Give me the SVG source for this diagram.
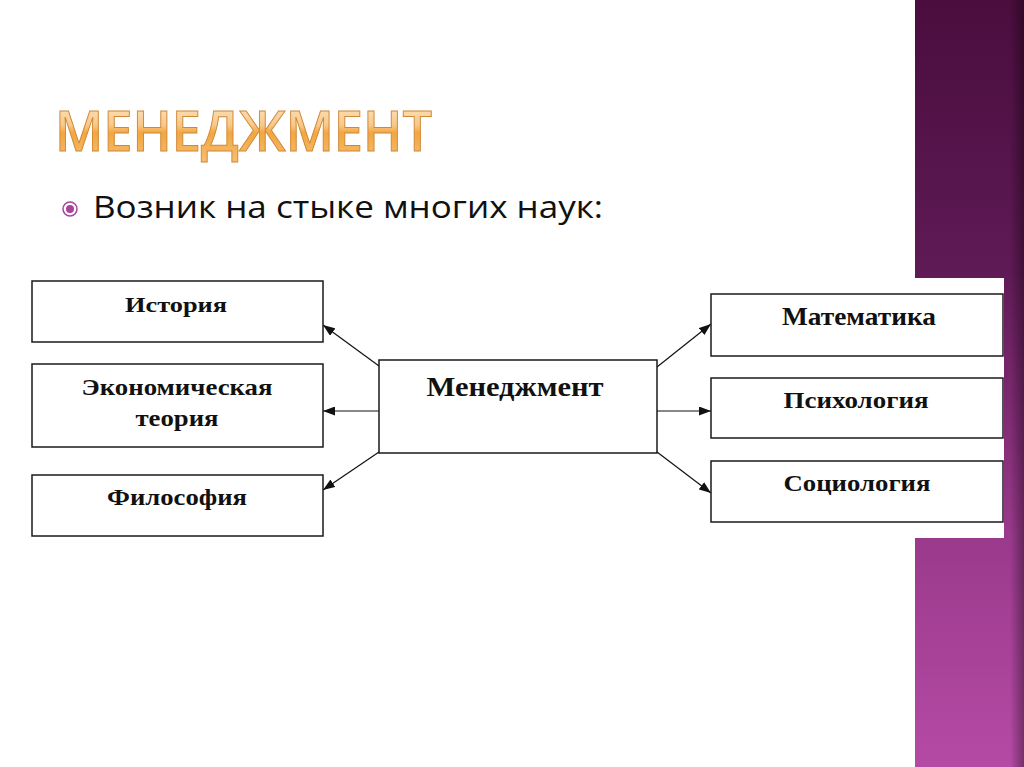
<svg xmlns="http://www.w3.org/2000/svg" width="1024" height="767" viewBox="0 0 1024 767">
<style>
.box{fill:#ffffff;stroke:#1a1a1a;stroke-width:1.5}
.lbl{font-family:"Liberation Serif","Times New Roman",serif;font-weight:bold;fill:#111;text-anchor:middle}
.con{stroke:#111;stroke-width:1.2;fill:none;marker-end:url(#ah)}
</style>
<defs>
<marker id="ah" viewBox="0 0 12 9" refX="12" refY="4.5" markerWidth="12" markerHeight="9" markerUnits="userSpaceOnUse" orient="auto">
<path d="M0,0 L12,4.5 L0,9 Z" fill="#111"/>
</marker>
<linearGradient id="band" x1="0" y1="0" x2="0" y2="1">
<stop offset="0" stop-color="#4a0d3d"/>
<stop offset="0.35" stop-color="#5e1a55"/>
<stop offset="0.7" stop-color="#9a3a8c"/>
<stop offset="1" stop-color="#b54aa5"/>
</linearGradient>
<linearGradient id="bandEdge" x1="0" y1="0" x2="1" y2="0">
<stop offset="0" stop-color="#000" stop-opacity="0"/>
<stop offset="1" stop-color="#000" stop-opacity="0.35"/>
</linearGradient>
<linearGradient id="title" x1="0" y1="0" x2="0" y2="1">
<stop offset="0" stop-color="#fff3e0"/>
<stop offset="0.45" stop-color="#f8c888"/>
<stop offset="0.55" stop-color="#f2a640"/>
<stop offset="1" stop-color="#f7c27a"/>
</linearGradient>
</defs>
<rect x="0" y="0" width="1024" height="767" fill="#ffffff"/>
<g id="band-deco">
<rect x="915" y="0" width="109" height="767" fill="url(#band)"/>
<rect x="1010" y="0" width="14" height="767" fill="url(#bandEdge)"/>
</g>
<rect x="20" y="278" width="984" height="260" fill="#ffffff"/>
<g id="title-text">
<text x="55" y="151" font-family="'Open Sans','Noto Sans',sans-serif" font-weight="600" font-size="56" fill="url(#title)" stroke="#cf8838" stroke-width="1" textLength="377" lengthAdjust="spacingAndGlyphs">МЕНЕДЖМЕНТ</text>
</g>
<g id="bullet">
<circle cx="70" cy="209" r="7" fill="#fff" stroke="#a8449e" stroke-width="1.5"/>
<circle cx="70" cy="209" r="4" fill="#a8449e"/>
<text x="93" y="218" font-family="'Open Sans','Noto Sans',sans-serif" font-size="31" fill="#111" textLength="510" lengthAdjust="spacingAndGlyphs">Возник на стыке многих наук:</text>
</g>
<g id="connectors">
<line class="con" x1="379" y1="366" x2="323" y2="325"/>
<line class="con" x1="379" y1="411" x2="323" y2="411"/>
<line class="con" x1="379" y1="452" x2="323" y2="490"/>
<line class="con" x1="657" y1="367" x2="711" y2="324"/>
<line class="con" x1="657" y1="411" x2="711" y2="411"/>
<line class="con" x1="657" y1="452" x2="711" y2="493"/>
</g>
<g id="n-history">
<rect class="box" x="32" y="281" width="291" height="61"/>
<text class="lbl" x="176" y="312" font-size="21" textLength="102" lengthAdjust="spacingAndGlyphs">История</text>
</g>
<g id="n-econ">
<rect class="box" x="32" y="364" width="291" height="83"/>
<text class="lbl" x="177" y="395" font-size="24" textLength="191" lengthAdjust="spacingAndGlyphs">Экономическая</text>
<text class="lbl" x="177" y="426" font-size="24" textLength="83" lengthAdjust="spacingAndGlyphs">теория</text>
</g>
<g id="n-philo">
<rect class="box" x="32" y="475" width="291" height="61"/>
<text class="lbl" x="177" y="505" font-size="23" textLength="140" lengthAdjust="spacingAndGlyphs">Философия</text>
</g>
<g id="n-mgmt">
<rect class="box" x="379" y="360" width="278" height="93"/>
<text class="lbl" x="515" y="396" font-size="28" textLength="177" lengthAdjust="spacingAndGlyphs">Менеджмент</text>
</g>
<g id="n-math">
<rect class="box" x="711" y="294" width="292" height="62"/>
<text class="lbl" x="859" y="325" font-size="25" textLength="154" lengthAdjust="spacingAndGlyphs">Математика</text>
</g>
<g id="n-psy">
<rect class="box" x="711" y="378" width="292" height="60"/>
<text class="lbl" x="856" y="408" font-size="23" textLength="145" lengthAdjust="spacingAndGlyphs">Психология</text>
</g>
<g id="n-soc">
<rect class="box" x="711" y="461" width="292" height="61"/>
<text class="lbl" x="857" y="491" font-size="23" textLength="147" lengthAdjust="spacingAndGlyphs">Социология</text>
</g>
</svg>
